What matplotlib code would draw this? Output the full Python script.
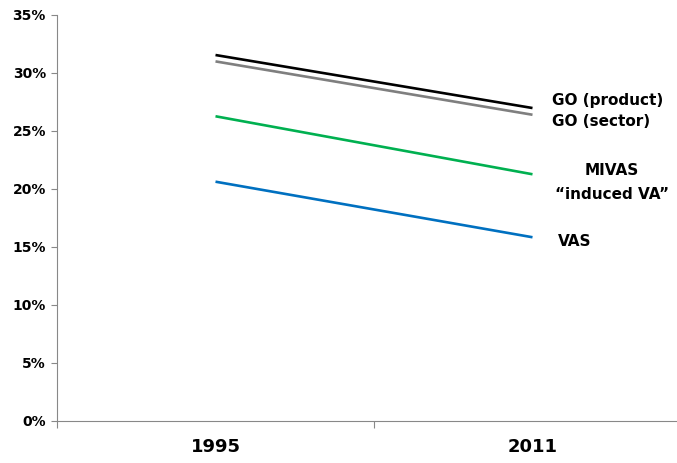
import matplotlib.pyplot as plt
from matplotlib.ticker import FuncFormatter

years = ['1995', '2011']
go_product = [31.55, 26.98]
go_sector = [31.0, 26.4]
mivas = [26.27, 21.27]
vas = [20.63, 15.84]

fig = plt.figure(figsize=(6.77, 4.63), dpi=100)
ax = fig.add_axes([57/677, 1-421/463, 634/677, 406/463])

x = [0, 1]
ax.plot(x, go_product, color='black', lw=1.9, solid_capstyle='butt')
ax.plot(x, go_sector, color='#7f7f7f', lw=1.9, solid_capstyle='butt')
ax.plot(x, mivas, color='#00b050', lw=1.9, solid_capstyle='butt')
ax.plot(x, vas, color='#0070c0', lw=1.9, solid_capstyle='butt')

ax.set_xlim(-0.5, 1.5)
ax.set_ylim(0, 35)
ax.set_yticks(range(0, 36, 5))
ax.yaxis.set_major_formatter(FuncFormatter(lambda v, p: f'{int(v)}%'))
ax.set_xticks([-0.5, 0.5, 1.5])
ax.set_xticklabels([])
ax.set_xticks(x, minor=True)
ax.set_xticklabels(years, minor=True, fontsize=13, fontweight='bold')
ax.tick_params(axis='x', which='minor', length=0, pad=12)
ax.tick_params(axis='x', which='major', length=5, color='#888888', direction='out')
ax.tick_params(axis='y', length=4, color='#888888', labelsize=10, pad=4)
for t in ax.get_yticklabels():
    t.set_fontweight('bold')

for s in ['top', 'right']:
    ax.spines[s].set_visible(False)
for s in ['left', 'bottom']:
    ax.spines[s].set_color('#888888')

fs = 11
ax.text(1.06, 27.6, 'GO (product)', fontsize=fs, fontweight='bold', va='center', ha='left')
ax.text(1.06, 25.8, 'GO (sector)', fontsize=fs, fontweight='bold', va='center', ha='left')
ax.text(1.25, 21.6, 'MIVAS', fontsize=fs, fontweight='bold', va='center', ha='center')
ax.text(1.25, 19.5, '\u201cinduced VA\u201d', fontsize=fs, fontweight='bold', va='center', ha='center')
ax.text(1.08, 15.5, 'VAS', fontsize=fs, fontweight='bold', va='center', ha='left')

fig.savefig('out.png', dpi=100)
